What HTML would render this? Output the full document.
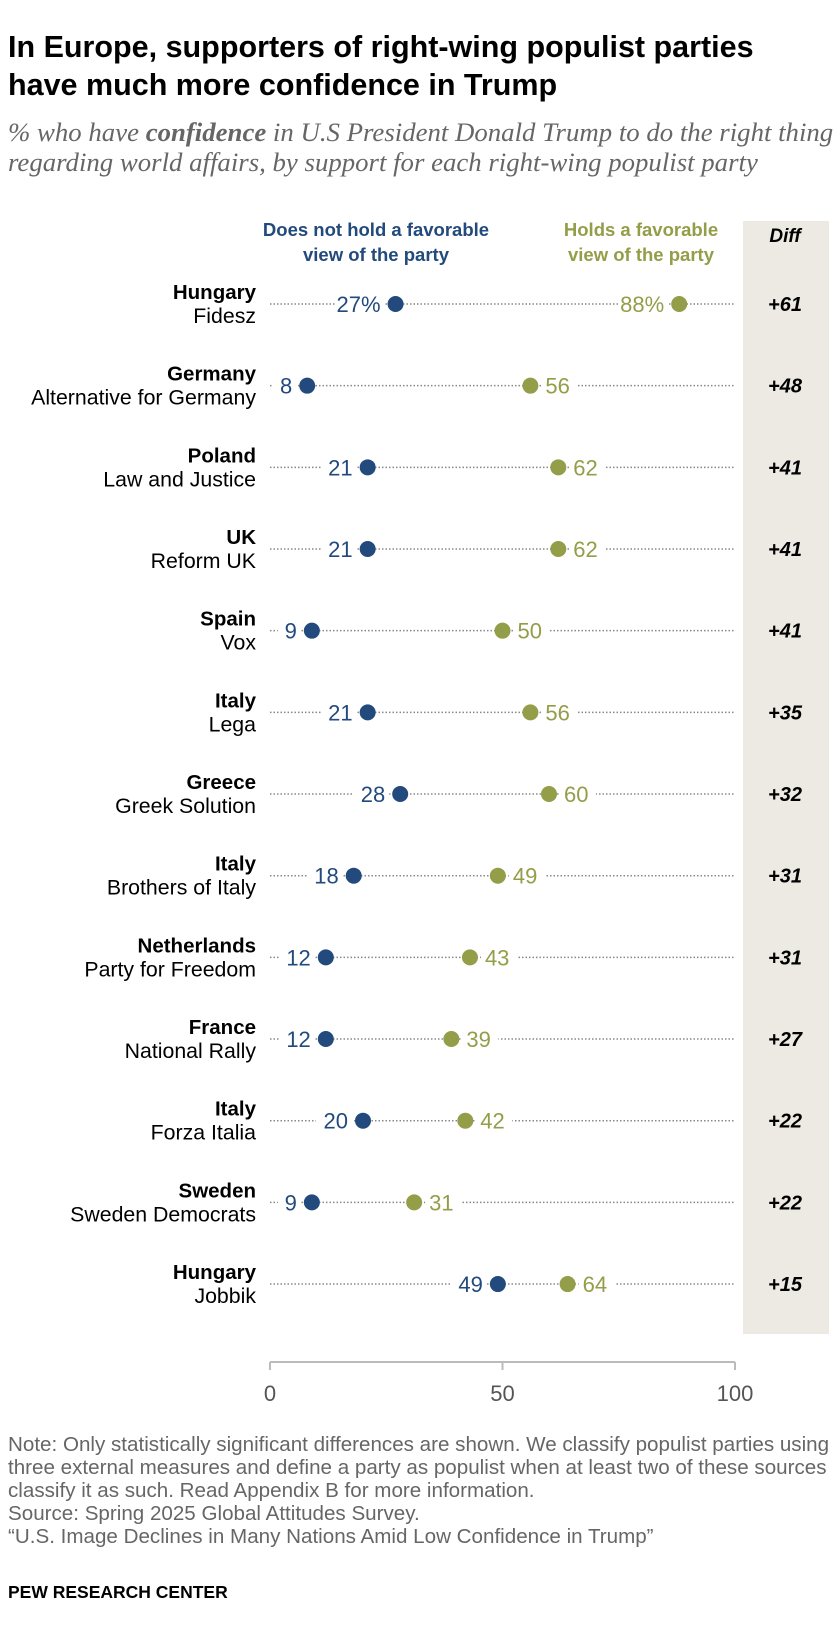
<!DOCTYPE html>
<html><head><meta charset="utf-8">
<style>
body{margin:0;background:#fff;width:840px;height:1632px;overflow:hidden;font-family:"Liberation Sans",Arial,sans-serif;}
svg text{font-family:"Liberation Sans",Arial,sans-serif;}
</style></head>
<body>
<svg id="chart" width="840" height="1632" viewBox="0 0 840 1632" xmlns="http://www.w3.org/2000/svg">
<text x="8" y="57" font-size="30.5" font-weight="bold" fill="#000">In Europe, supporters of right-wing populist parties</text>
<text x="8" y="95" font-size="30.5" font-weight="bold" fill="#000">have much more confidence in Trump</text>
<text x="8" y="141" font-size="26.8" font-style="italic" fill="#666" style="font-family:'Liberation Serif',serif">% who have <tspan font-weight="bold">confidence</tspan> in U.S President Donald Trump to do the right thing</text>
<text x="8" y="171" font-size="26.8" font-style="italic" fill="#666" style="font-family:'Liberation Serif',serif">regarding world affairs, by support for each right-wing populist party</text>
<rect x="743" y="221" width="86" height="1113" fill="#EDEAE3"/>
<text x="785" y="242" font-size="19" font-weight="bold" font-style="italic" text-anchor="middle" fill="#000">Diff</text>
<text x="376" y="236" font-size="18.5" font-weight="bold" text-anchor="middle" fill="#234A7C">Does not hold a favorable</text>
<text x="376" y="261" font-size="18.5" font-weight="bold" text-anchor="middle" fill="#234A7C">view of the party</text>
<text x="641" y="236" font-size="18.5" font-weight="bold" text-anchor="middle" fill="#949D48">Holds a favorable</text>
<text x="641" y="261" font-size="18.5" font-weight="bold" text-anchor="middle" fill="#949D48">view of the party</text>
<g id="rows"></g>
<g id="axis"></g>
<g fill="#666" font-size="20.6">
<text x="8" y="1451">Note: Only statistically significant differences are shown. We classify populist parties using</text>
<text x="8" y="1474">three external measures and define a party as populist when at least two of these sources</text>
<text x="8" y="1497">classify it as such. Read Appendix B for more information.</text>
<text x="8" y="1520">Source: Spring 2025 Global Attitudes Survey.</text>
<text x="8" y="1543">“U.S. Image Declines in Many Nations Amid Low Confidence in Trump”</text>
</g>
<text x="8" y="1598" font-size="17.5" font-weight="bold" fill="#000">PEW RESEARCH CENTER</text>
</svg>
<script>
const countries=["Hungary","Germany","Poland","UK","Spain","Italy","Greece","Italy","Netherlands","France","Italy","Sweden","Hungary"];
const parties=["Fidesz","Alternative for Germany","Law and Justice","Reform UK","Vox","Lega","Greek Solution","Brothers of Italy","Party for Freedom","National Rally","Forza Italia","Sweden Democrats","Jobbik"];
const notFav=[27,8,21,21,9,21,28,18,12,12,20,9,49];
const fav=[88,56,62,62,50,56,60,49,43,39,42,31,64];
const diffs=["+61","+48","+41","+41","+41","+35","+32","+31","+31","+27","+22","+22","+15"];
const ticks=[0,50,100];
const NS="http://www.w3.org/2000/svg";
const x=v=>270+v*4.65;
const y=i=>304+i*81.67;
function mk(tag,attrs,parent,txt){const e=document.createElementNS(NS,tag);for(const k in attrs)e.setAttribute(k,attrs[k]);if(txt!==undefined)e.textContent=txt;parent.appendChild(e);return e;}
const rows=document.getElementById('rows');
countries.forEach((c,i)=>{
  const g=mk('g',{},rows);
  
  
  const yy=y(i);
  const ln=mk('line',{x1:x(0),x2:x(100),y1:yy,y2:yy,stroke:'#888','stroke-width':1.5,'stroke-dasharray':'1.5 2'},g);
  
  
  const ct=mk('text',{x:256,y:yy-5,'font-size':20.5,'font-weight':'bold','text-anchor':'end',fill:'#000'},g,c);
  
  
  const pt=mk('text',{x:256,y:yy+19,'font-size':21.3,'text-anchor':'end',fill:'#000'},g,parties[i]);
  
  
  const first=i===0;
  const bl=first?notFav[i]+'%':String(notFav[i]);
  const gl=first?fav[i]+'%':String(fav[i]);
  const bx=x(notFav[i])-15;
  const bw=bl.length*13+10;
  mk('rect',{x:bx-bw+4,y:yy-11,width:bw,height:22,fill:'#fff'},g);
  const bt=mk('text',{x:bx,y:yy+8,'font-size':22,'text-anchor':'end',fill:'#234A7C'},g,bl);
  
  
  const gw=gl.length*13+10;
  let gt;
  if(first){
    const gx=x(fav[i])-15;
    mk('rect',{x:gx-gw+4,y:yy-11,width:gw,height:22,fill:'#fff'},g);
    gt=mk('text',{x:gx,y:yy+8,'font-size':22,'text-anchor':'end',fill:'#949D48'},g,gl);
  }else{
    const gx=x(fav[i])+15;
    mk('rect',{x:gx-4,y:yy-11,width:gw,height:22,fill:'#fff'},g);
    gt=mk('text',{x:gx,y:yy+8,'font-size':22,'text-anchor':'start',fill:'#949D48'},g,gl);
  }
  
  
  const d1=mk('circle',{cx:x(notFav[i]),cy:yy,r:8,fill:'#234A7C'},g);
  
  
  const d2=mk('circle',{cx:x(fav[i]),cy:yy,r:8,fill:'#949D48'},g);
  
  
  const dt=mk('text',{x:785,y:yy+7,'font-size':20,'font-weight':'bold','font-style':'italic','text-anchor':'middle',fill:'#000'},g,diffs[i]);
  
  
});
const ax=document.getElementById('axis');


mk('line',{x1:x(0),x2:x(100),y1:1362,y2:1362,stroke:'#bbb','stroke-width':2},ax);
ticks.forEach(t=>{
  mk('line',{x1:x(t),x2:x(t),y1:1362,y2:1370,stroke:'#bbb','stroke-width':2},ax);
  const tt=mk('text',{x:x(t),y:1401,'font-size':22,'text-anchor':'middle',fill:'#555'},ax,String(t));
  
  
});
</script>
</body></html>
